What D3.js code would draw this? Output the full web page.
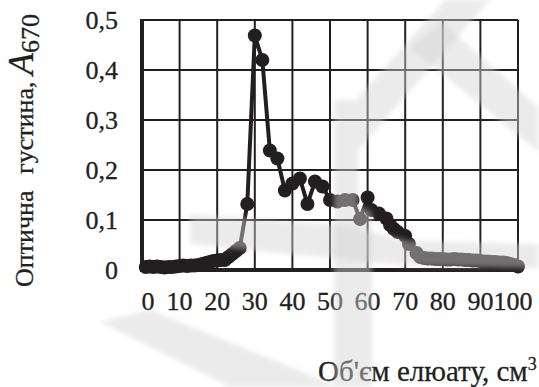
<!DOCTYPE html>
<html>
<head>
<meta charset="utf-8">
<script src="https://cdn.jsdelivr.net/npm/d3@7"></script>
<style>
  body { margin: 0; background: #fff; }
  svg { display: block; }
  text { font-family: "Liberation Serif", "DejaVu Serif", serif; fill: #231f20; stroke: #231f20; stroke-width: 0.3px; }
</style>
</head>
<body>
<div id="chart"></div>
<script>
// elution volume, cm3
const volume = [1, 2, 3, 4, 5, 6, 7, 8, 9, 10, 11, 12, 13, 14, 15, 16, 17, 18, 19, 20,
    21, 22, 23, 24, 25, 26, 28, 30, 32, 34, 36, 38, 40, 42, 44, 46, 48, 50, 52, 54,
    56, 58, 60, 61, 63, 65, 66, 67, 68, 70, 71, 73, 74, 75, 76, 77, 78, 79, 80, 81,
    82, 83, 84, 85, 86, 87, 88, 89, 90, 91, 92, 93, 94, 95, 96, 97, 98, 99, 100];
// optical density A670
const density = [0.006, 0.007, 0.006, 0.007, 0.006, 0.005, 0.006, 0.006, 0.007, 0.008,
    0.009, 0.008, 0.009, 0.009, 0.010, 0.012, 0.014, 0.016, 0.018, 0.019,
    0.020, 0.020, 0.026, 0.032, 0.038, 0.044, 0.132, 0.469, 0.420, 0.239,
    0.223, 0.159, 0.173, 0.183, 0.132, 0.177, 0.167, 0.140, 0.137, 0.140,
    0.140, 0.102, 0.145, 0.120, 0.113, 0.103, 0.090, 0.082, 0.076, 0.068,
    0.052, 0.034, 0.026, 0.024, 0.023, 0.023, 0.022, 0.022, 0.022, 0.021,
    0.021, 0.022, 0.021, 0.021, 0.020, 0.020, 0.019, 0.019, 0.018, 0.017,
    0.017, 0.016, 0.016, 0.015, 0.015, 0.014, 0.012, 0.010, 0.007];

const xTicks = [0, 10, 20, 30, 40, 50, 60, 70, 80, 90, 100];
const yTicks = [0, 0.1, 0.2, 0.3, 0.4, 0.5];

const width = 539, height = 387;
const ink = "#231f20";

const svg = d3.select("#chart").append("svg")
    .attr("width", width)
    .attr("height", height);

const x = d3.scaleLinear().domain([0, 100]).range([142, 518]);
const y = d3.scaleLinear().domain([0, 0.5]).range([270, 20]);

// grid
svg.append("g").selectAll("line")
    .data(xTicks)
    .enter().append("line")
    .attr("x1", d => x(d)).attr("x2", d => x(d))
    .attr("y1", y(0.5)).attr("y2", y(0))
    .attr("stroke", ink).attr("stroke-width", 2);

svg.append("g").selectAll("line")
    .data(yTicks)
    .enter().append("line")
    .attr("x1", x(0)).attr("x2", x(100))
    .attr("y1", d => y(d)).attr("y2", d => y(d))
    .attr("stroke", ink).attr("stroke-width", 2);

// heavier left and bottom axis lines
svg.append("line")
    .attr("x1", x(0)).attr("x2", x(0)).attr("y1", y(0.5) - 1).attr("y2", y(0) + 2)
    .attr("stroke", ink).attr("stroke-width", 4);
svg.append("line")
    .attr("x1", x(0) - 2).attr("x2", x(100) + 1).attr("y1", y(0)).attr("y2", y(0))
    .attr("stroke", ink).attr("stroke-width", 4);

// tick labels
const fmt = d => d === 0 ? "0" : d3.format(".1f")(d).replace(".", ",");

svg.append("g").selectAll("text")
    .data(yTicks)
    .enter().append("text")
    .attr("x", 118)
    .attr("y", d => y(d) + 9)
    .attr("text-anchor", "end")
    .style("font-size", "26px")
    .text(fmt);

svg.append("g").selectAll("text")
    .data(xTicks)
    .enter().append("text")
    .attr("x", d => x(d) + (d === 0 ? 6 : d === 100 ? -5 : 0))
    .attr("y", 310)
    .attr("text-anchor", "middle")
    .style("font-size", "26px")
    .text(d => d);

// series
const points = volume.map((v, i) => [v, density[i]]);

svg.append("path")
    .datum(points)
    .attr("fill", "none")
    .attr("stroke", ink)
    .attr("stroke-width", 4)
    .attr("d", d3.line().x(d => x(d[0])).y(d => y(d[1])));

svg.append("g").selectAll("circle")
    .data(points)
    .enter().append("circle")
    .attr("cx", d => x(d[0]))
    .attr("cy", d => y(d[1]))
    .attr("r", 7)
    .attr("fill", ink);

// axis titles
const yTitle = svg.append("text")
    .attr("transform", "translate(33,287) rotate(-90)")
    .style("font-size", "26px");
yTitle.append("tspan").text("Оптична");
const gap = yTitle.append("tspan").text("густина, ");
yTitle.append("tspan").style("font-style", "italic").style("font-size", "36px").text("A");
yTitle.append("tspan").attr("dy", 6).style("font-size", "26px").text("670");

// open the gap between the two words so the title spans the measured length
const len = yTitle.node().getComputedTextLength();
gap.attr("dx", Math.max(6, 273 - len));

const xTitle = svg.append("text")
    .attr("x", 318)
    .attr("y", 381)
    .style("font-size", "29px");
xTitle.append("tspan").text("Об'єм елюату, см");
xTitle.append("tspan").attr("dy", -11).style("font-size", "18px").text("3");

// faint watermark lying over the picture
const defs = svg.append("defs");
defs.append("filter").attr("id", "soft")
    .append("feGaussianBlur").attr("stdDeviation", 2.5);

const marks = [
    [[334, 100], [356, 100], [445, 0], [490, 0], [358, 150], [358, 205], [372, 212], [372, 387], [334, 387]],
    [[410, 48], [442, 22], [539, 108], [539, 152]],
    [[190, 214], [340, 225], [410, 241], [539, 244], [539, 268], [410, 266], [190, 244]],
    [[100, 322], [150, 310], [340, 387], [230, 387]]
];

svg.append("g")
    .attr("filter", "url(#soft)")
    .selectAll("polygon")
    .data(marks)
    .enter().append("polygon")
    .attr("points", d => d.join(" "))
    .attr("fill", "rgb(211,211,211)")
    .attr("opacity", 0.45);
</script>
</body>
</html>
